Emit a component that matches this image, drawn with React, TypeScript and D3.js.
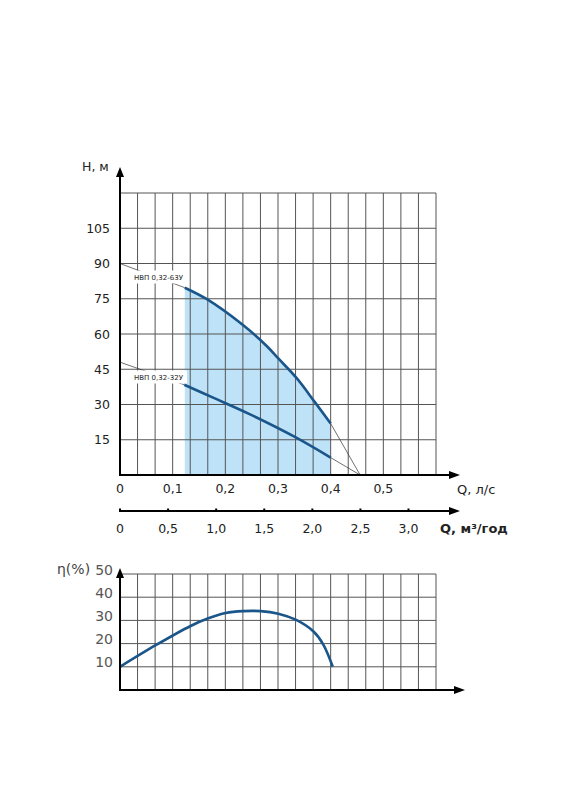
import React from "react";
import * as d3 from "d3";

// Head curves (Q in l/s, H in m)
const q63 = [0.123, 0.165, 0.2335, 0.2785, 0.3006, 0.3355, 0.37, 0.4];
const h63 = [79.7, 74.8, 63.8, 54.9, 49.6, 41.2, 31.0, 21.9];
const q32 = [0.122, 0.18, 0.247, 0.332, 0.4];
const h32 = [38.4, 32.6, 25.8, 16.2, 7.4];
const label63 = "НВП 0,32-63У";
const label32 = "НВП 0,32-32У";
const h63Zero = 90; // leader start on H axis
const h32Zero = 48;
const qShutoff = 0.456; // extension endpoint on Q axis

// Efficiency curve
const qEta = [0, 0.0678, 0.134, 0.1677, 0.2007, 0.234, 0.267, 0.3006, 0.3336, 0.367, 0.386, 0.404];
const eta = [10, 19.3, 27.6, 30.9, 33.2, 34.0, 34.0, 32.9, 30.3, 25.3, 19.6, 10];

// Ticks
const hTicks = [15, 30, 45, 60, 75, 90, 105];
const qTicks = [0, 0.1, 0.2, 0.3, 0.4, 0.5];
const mTicks = [0, 0.5, 1.0, 1.5, 2.0, 2.5, 3.0];
const etaTicks = [10, 20, 30, 40, 50];
const gridCols = 18;

const FONT = "DejaVu Sans, sans-serif";
const BLUE = "#1b568a";
const FILL = "#bee3f8";
const GRID = "#555";

const fmt = (v: number, d: number) => v.toFixed(d).replace(".", ",");

export default function App() {
  const xQ = d3.scaleLinear().domain([0, 0.6]).range([120, 436]);
  const yH = d3.scaleLinear().domain([0, 120]).range([475, 193]);
  const xM = d3.scaleLinear().domain([0, 3]).range([120, 408.5]);
  const yE = d3.scaleLinear().domain([0, 50]).range([690, 574]);

  const cols = d3.range(1, gridCols + 1).map((i) => (0.6 * i) / gridCols);
  const smooth = d3.curveCatmullRom.alpha(0.5);

  const line63 = d3
    .line<number>()
    .x((_, i) => xQ(q63[i]))
    .y((d) => yH(d))
    .curve(smooth)(h63) as string;
  const area63 = d3
    .area<number>()
    .x((_, i) => xQ(q63[i]))
    .y0(yH(0))
    .y1((d) => yH(d))
    .curve(smooth)(h63) as string;
  const line32 = d3
    .line<number>()
    .x((_, i) => xQ(q32[i]))
    .y((d) => yH(d))
    .curve(smooth)(h32) as string;
  const lineEta = d3
    .line<number>()
    .x((_, i) => xQ(qEta[i]))
    .y((d) => yE(d))
    .curve(smooth)(eta) as string;

  const arrowUp = (x: number, tip: number) =>
    `M${x},${tip} L${x - 4},${tip + 10} L${x + 4},${tip + 10} Z`;
  const arrowRight = (tip: number, y: number) =>
    `M${tip},${y} L${tip - 11},${y - 4} L${tip - 11},${y + 4} Z`;

  const labelBox = (y: number, text: string) => (
    <g>
      <rect x={130} y={y - 9} width={57} height={13} fill="#fff" />
      <text x={134} y={y} fontSize={6.8} fontFamily={FONT} fill="#222" textLength={49} lengthAdjust="spacingAndGlyphs">
        {text}
      </text>
    </g>
  );

  return (
    <svg width={564} height={800} style={{ position: "absolute", left: 0, top: 0, background: "#fff" }}>
      <rect x={0} y={0} width={564} height={800} fill="#fff" />
      {/* ===== Top chart ===== */}
      <path d={area63} fill={FILL} />
      {cols.map((c, i) => (
        <line key={"vc" + i} x1={xQ(c)} x2={xQ(c)} y1={yH(120)} y2={yH(0)} stroke={GRID} strokeWidth={1} />
      ))}
      {[...hTicks, 120].map((h) => (
        <line key={"hr" + h} x1={xQ(0)} x2={xQ(0.6)} y1={yH(h)} y2={yH(h)} stroke={GRID} strokeWidth={1} />
      ))}
      {/* leaders and extensions */}
      <line x1={xQ(0)} y1={yH(h63Zero)} x2={xQ(q63[0])} y2={yH(h63[0])} stroke="#333" strokeWidth={0.7} />
      <line x1={xQ(0)} y1={yH(h32Zero)} x2={xQ(q32[0])} y2={yH(h32[0])} stroke="#333" strokeWidth={0.7} />
      <line x1={xQ(q63[q63.length - 1])} y1={yH(h63[h63.length - 1])} x2={xQ(qShutoff)} y2={yH(0)} stroke="#333" strokeWidth={0.7} />
      <line x1={xQ(q32[q32.length - 1])} y1={yH(h32[h32.length - 1])} x2={xQ(qShutoff)} y2={yH(0)} stroke="#333" strokeWidth={0.7} />
      {labelBox(279.5, label63)}
      {labelBox(379.5, label32)}
      <path d={line63} fill="none" stroke={BLUE} strokeWidth={2.6} />
      <path d={line32} fill="none" stroke={BLUE} strokeWidth={2.6} />
      {/* axes */}
      <line x1={120} y1={yH(0)} x2={120} y2={176} stroke="#000" strokeWidth={2} />
      <path d={arrowUp(120, 167)} fill="#000" />
      <line x1={119} y1={yH(0)} x2={452} y2={yH(0)} stroke="#000" strokeWidth={2} />
      <path d={arrowRight(460, yH(0))} fill="#000" />
      <text x={82} y={171} fontSize={12.5} fontFamily={FONT} fill="#222">Н, м</text>
      {hTicks.map((h) => (
        <text key={"ht" + h} x={110} y={yH(h)} dy="0.36em" textAnchor="end" fontSize={12.5} fontFamily={FONT} fill="#222">
          {h}
        </text>
      ))}
      {qTicks.map((q) => (
        <text key={"qt" + q} x={xQ(q)} y={493} textAnchor="middle" fontSize={12.5} fontFamily={FONT} fill="#222">
          {q === 0 ? "0" : fmt(q, 1)}
        </text>
      ))}
      <text x={457} y={494} fontSize={13} fontFamily={FONT} fill="#222">Q, л/с</text>
      {/* second Q axis */}
      <line x1={119} y1={511} x2={452} y2={511} stroke="#000" strokeWidth={2} />
      <path d={arrowRight(460, 511)} fill="#000" />
      {mTicks.map((m) => (
        <line key={"mt" + m} x1={xM(m)} x2={xM(m)} y1={508.5} y2={511} stroke="#000" strokeWidth={2} />
      ))}
      {mTicks.map((m) => (
        <text key={"ml" + m} x={xM(m)} y={533} textAnchor="middle" fontSize={12.5} fontFamily={FONT} fill="#222">
          {m === 0 ? "0" : fmt(m, 1)}
        </text>
      ))}
      <text x={440} y={533} fontSize={13} fontWeight="bold" fontFamily={FONT} fill="#222">Q, м³/год</text>

      {/* ===== Efficiency chart ===== */}
      {cols.map((c, i) => (
        <line key={"evc" + i} x1={xQ(c)} x2={xQ(c)} y1={yE(50)} y2={yE(0)} stroke={GRID} strokeWidth={1} />
      ))}
      {etaTicks.map((e) => (
        <line key={"ehr" + e} x1={xQ(0)} x2={xQ(0.6)} y1={yE(e)} y2={yE(e)} stroke={GRID} strokeWidth={1} />
      ))}
      <path d={lineEta} fill="none" stroke={BLUE} strokeWidth={2.6} />
      <line x1={120} y1={yE(0)} x2={120} y2={578} stroke="#000" strokeWidth={2} />
      <path d={arrowUp(120, 568)} fill="#000" />
      <line x1={119} y1={yE(0)} x2={456} y2={yE(0)} stroke="#000" strokeWidth={2} />
      <path d={arrowRight(465, yE(0))} fill="#000" />
      <text x={57} y={574} fontSize={14} fontFamily={FONT} fill="#444">η(%)</text>
      {etaTicks.map((e) => (
        <text key={"et" + e} x={113} y={yE(e) + 0.5} textAnchor="end" fontSize={14} fontFamily={FONT} fill="#555">
          {e}
        </text>
      ))}
    </svg>
  );
}
